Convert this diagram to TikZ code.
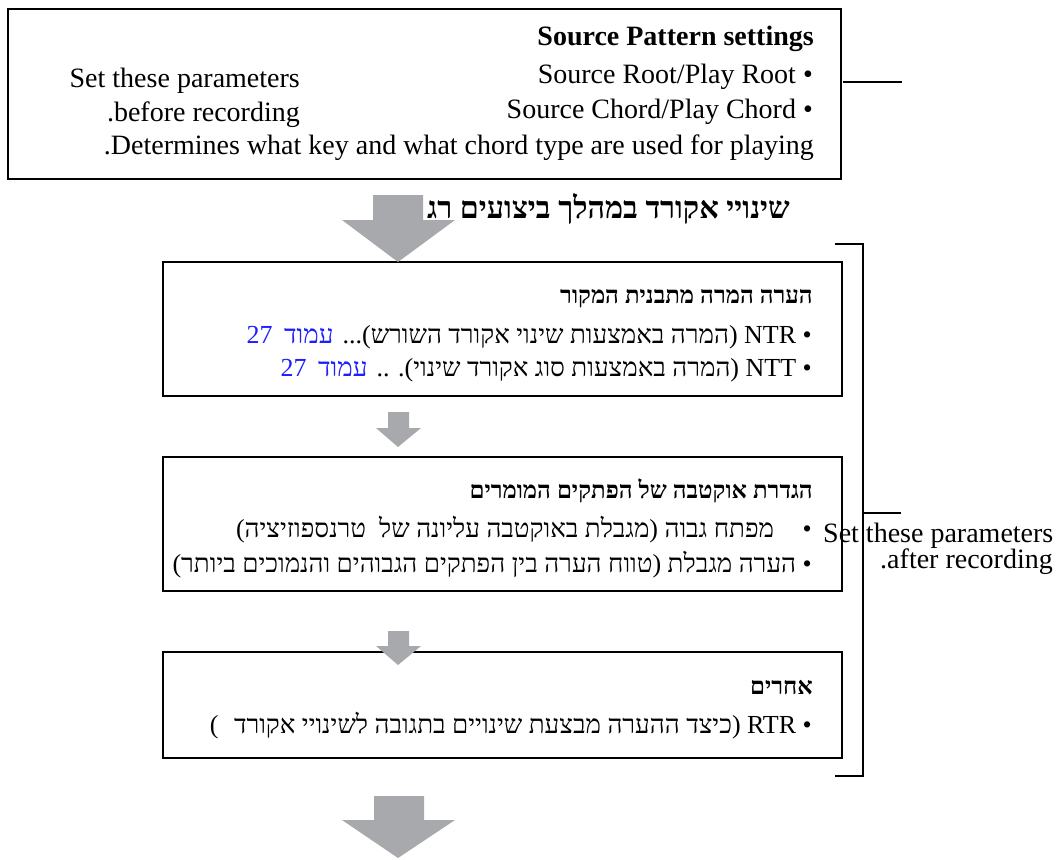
\documentclass[tikz,border=0pt]{standalone}
\usepackage{fontspec}
\setmainfont{Liberation Serif}
\newfontfamily\hebfont[Script=Hebrew]{Liberation Serif}
\TeXXeTstate=1
\definecolor{arrowgray}{RGB}{167,169,172}
\definecolor{refblue}{RGB}{30,30,255}
\tikzset{
  box/.style={draw=black, line width=2.6pt, inner sep=0pt},
  lat/.style={inner sep=0pt, font=\fontsize{28}{32}\selectfont},
  latb/.style={inner sep=0pt, font=\fontsize{28}{32}\selectfont\bfseries},
  heb/.style={inner sep=0pt, font=\hebfont\fontsize{26}{30}\selectfont},
  hebh/.style={inner sep=0pt, font=\hebfont\fontsize{24}{28}\selectfont\bfseries},
  hebtop/.style={inner sep=0pt, font=\hebfont\fontsize{30.5}{34}\selectfont\bfseries},
  link/.style={inner sep=0pt, text=refblue, font=\hebfont\fontsize{26}{30}\selectfont},
  thin/.style={draw=black, line width=1.3pt},
  blockarrow/.style={fill=arrowgray, draw=none}
}
\begin{document}
\begin{tikzpicture}[x=1pt,y=-1pt]
\useasboundingbox (0,0) rectangle (1057,859);
\fill[white] (0,0) rectangle (1057,859);

% boxes
\node[box, minimum width=833pt, minimum height=170pt] (b1) at (424.5,94) {};
\node[box, minimum width=679pt, minimum height=134pt] (b2) at (502.5,329) {};
\node[box, minimum width=679pt, minimum height=134pt] (b3) at (502.5,524) {};
\node[box, minimum width=679pt, minimum height=106pt] (b4) at (502.5,705) {};

% box 1 texts
\node[latb, anchor=base east] (t1) at (814,46) {Source Pattern settings};
\node[lat, anchor=base east] (t2) at (813,84) {Source Root/Play Root \textbullet};
\node[lat, anchor=base east] (t3) at (813,118) {Source Chord/Play Chord \textbullet};
\node[lat, anchor=base east] (t4) at (814,154) {.Determines what key and what chord type are used for playing};
\node[lat, anchor=base east] (s1) at (300,88) {Set these parameters};
\node[lat, anchor=base east] (s2) at (300,121) {.before recording};
\coordinate (l1a) at (843,82);
\coordinate (l1b) at (902,82);
\draw[thin] (l1a) -- (l1b);

% heading between box 1 and 2
\node[hebtop, anchor=base east] (h0) at (790,218) {\beginR שינויי אקורד במהלך ביצועים רג\endR};

% box 2
\node[hebh, anchor=base east] (h2) at (813,303) {\beginR הערה המרה מתבנית המקור\endR};
\node[heb, anchor=base east] (b2l1) at (812,343) {\beginR • NTR (המרה באמצעות שינוי אקורד השורש)... \endR};
\node[link, anchor=base east] (b2l1b) at (b2l1.base west) {\beginR עמוד\hspace{0.45em}27\endR};
\node[heb, anchor=base east] (b2l2) at (812,376) {\beginR • NTT (המרה באמצעות סוג אקורד שינוי). .. \endR};
\node[link, anchor=base east] (b2l2b) at (b2l2.base west) {\beginR עמוד\hspace{0.45em}27\endR};

% box 3
\node[hebh, anchor=base east] (h3) at (813,498) {\beginR הגדרת אוקטבה של הפתקים המומרים\endR};
\node[heb, anchor=base east] (b3l1) at (812,537) {\beginR •\hspace{1.1em}מפתח גבוה (מגבלת באוקטבה עליונה של\hspace{0.5em}טרנספוזיציה)\endR};
\node[heb, anchor=base east] (b3l2) at (812,572) {\beginR • הערה מגבלת (טווח הערה בין הפתקים הגבוהים והנמוכים ביותר)\endR};

% box 4
\node[hebh, anchor=base east] (h4) at (813,694) {\beginR אחרים\endR};
\node[heb, anchor=base east] (b4l1) at (812,733) {\beginR • RTR (כיצד ההערה מבצעת שינויים בתגובה לשינויי אקורד\hspace{0.6em})\endR};

% bracket and right-side text
\coordinate (bra) at (835,244);
\coordinate (brb) at (863,244);
\coordinate (brc) at (863,776);
\coordinate (brd) at (835,776);
\draw[thin] (bra) -- (brb) -- (brc) -- (brd);
\coordinate (l2a) at (863,513);
\coordinate (l2b) at (901,513);
\draw[thin] (l2a) -- (l2b);
\node[lat, anchor=base west] (s3) at (823,542) {Set these parameters};
\node[lat, anchor=base east] (s4) at (1053,568) {.after recording};

% block arrows
\fill[blockarrow] (373,195) -- (423,195) -- (423,220) -- (455,220) -- (398,262) -- (342,220) -- (373,220) -- cycle;
\fill[blockarrow] (388,412) -- (409,412) -- (409,428) -- (421,428) -- (398,447) -- (376,428) -- (388,428) -- cycle;
\fill[blockarrow] (388,631) -- (409,631) -- (409,646) -- (421,646) -- (398,665) -- (376,646) -- (388,646) -- cycle;
\fill[blockarrow] (374,796) -- (424,796) -- (424,820) -- (455,820) -- (398,858) -- (342,820) -- (374,820) -- cycle;
\end{tikzpicture}
\end{document}
